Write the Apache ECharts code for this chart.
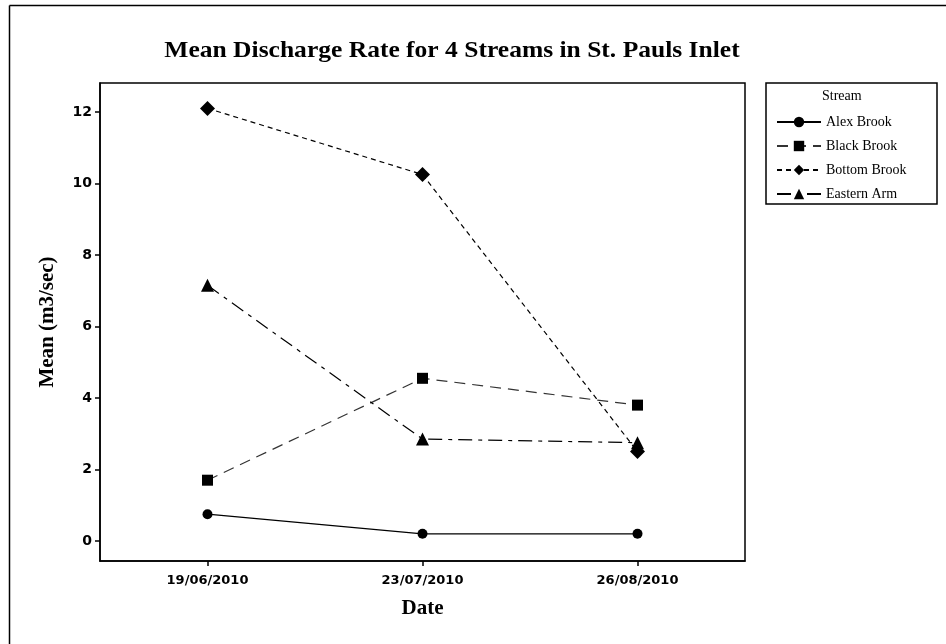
<!DOCTYPE html>
<html>
<head>
<meta charset="utf-8">
<script src="https://cdn.jsdelivr.net/npm/echarts@6/dist/echarts.min.js"></script>
<style>
  html, body { margin: 0; padding: 0; background: #fff; }
  #chart { width: 946px; height: 644px; }
</style>
</head>
<body>
<div id="chart"></div>
<script>
// dates on the x axis
const dates = ['19/06/2010', '23/07/2010', '26/08/2010']
const yTicks = [0, 2, 4, 6, 8, 10, 12]

// mean discharge (m3/sec)
const alexBrook = [0.75, 0.2, 0.2]
const blackBrook = [1.7, 4.55, 3.8]
const bottomBrook = [12.1, 10.25, 2.5]
const easternArm = [7.15, 2.85, 2.75]

const serif = '"Liberation Serif", "DejaVu Serif", serif'
const sans = '"DejaVu Sans", sans-serif'

const myChart = echarts.init(document.getElementById('chart'))

function line(name, data, symbol, size, dash, color) {
    return {
        name: name,
        type: 'line',
        data: data,
        symbol: symbol,
        symbolSize: size,
        showSymbol: true,
        animation: false,
        itemStyle: { color: '#000' },
        lineStyle: { color: color || '#000', width: 1.2, type: dash }
    }
}

const option = {
    backgroundColor: '#fff',
    grid: {
        left: 100, right: 201, top: 83, bottom: 83,
        show: true, borderColor: '#000', borderWidth: 1.5
    },
    legend: {
        orient: 'vertical',
        left: 771,
        top: 110,
        itemWidth: 44,
        itemHeight: 13,
        itemGap: 10,
        textStyle: { fontFamily: serif, fontSize: 14, color: '#000' },
        data: ['Alex Brook', 'Black Brook', 'Bottom Brook', 'Eastern Arm']
    },
    graphic: [
        { type: 'line', shape: { x1: 9.5, y1: 5.5, x2: 946, y2: 5.5 }, style: { stroke: '#000', lineWidth: 1.5 } },
        { type: 'line', shape: { x1: 9.5, y1: 5.5, x2: 9.5, y2: 644 }, style: { stroke: '#000', lineWidth: 1.5 } },
        { type: 'rect', shape: { x: 766, y: 83, width: 171, height: 121 }, style: { fill: 'none', stroke: '#000', lineWidth: 1.5 } },
        { type: 'text', left: 822, top: 89, style: { text: 'Stream', font: '14px ' + serif, fill: '#000' } },
        {
            type: 'text', x: 452, y: 51, scaleX: 1.11,
            style: {
                text: 'Mean Discharge Rate for 4 Streams in St. Pauls Inlet',
                font: 'bold 23px ' + serif, fill: '#000', align: 'center', verticalAlign: 'middle'
            }
        }
    ],
    xAxis: {
        type: 'category',
        data: dates,
        boundaryGap: true,
        name: 'Date',
        nameLocation: 'middle',
        nameGap: 37,
        nameTextStyle: { fontFamily: serif, fontSize: 21, fontWeight: 'bold', color: '#000' },
        axisLine: { show: true, onZero: false, lineStyle: { color: '#000', width: 1.5 } },
        axisTick: { show: true, alignWithLabel: true, length: 5, lineStyle: { color: '#000', width: 1.5 } },
        axisLabel: { fontFamily: sans, fontSize: 13, fontWeight: 'bold', color: '#000', margin: 13 },
        splitLine: { show: false }
    },
    yAxis: {
        type: 'value',
        min: -0.56,
        max: 12.81,
        name: 'Mean (m3/sec)',
        nameLocation: 'middle',
        nameGap: 42,
        nameTextStyle: { fontFamily: serif, fontSize: 21, fontWeight: 'bold', color: '#000' },
        axisLine: { show: true, onZero: false, lineStyle: { color: '#000', width: 1.5 } },
        axisTick: { show: true, length: 5, customValues: yTicks, lineStyle: { color: '#000', width: 1.5 } },
        axisLabel: { fontFamily: sans, fontSize: 14, fontWeight: 'bold', color: '#000', margin: 8, customValues: yTicks },
        splitLine: { show: false }
    },
    series: [
        line('Alex Brook', alexBrook, 'circle', 10, 'solid'),
        line('Black Brook', blackBrook, 'rect', 11, [11, 7], '#333'),
        line('Bottom Brook', bottomBrook, 'diamond', 15, [5, 4]),
        line('Eastern Arm', easternArm, 'triangle', 13, [14, 6, 4, 6])
    ]
}

myChart.setOption(option)
</script>
</body>
</html>
